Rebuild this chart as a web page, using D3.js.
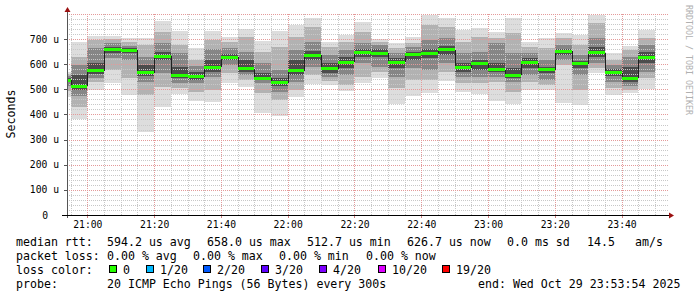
<!DOCTYPE html>
<html><head><meta charset="utf-8">
<script src="https://cdn.jsdelivr.net/npm/d3@7"></script>
<style>
body{margin:0;background:#fff}
svg{display:block}
text{font-family:"DejaVu Sans Mono",monospace}
</style>
</head><body>
<svg id="c" width="697" height="297"></svg>
<script>
// ---- data (microseconds), one entry per 5-minute interval, by interval end time ----
const intervalEnd = ["20:55","21:00","21:05","21:10","21:15","21:20","21:25","21:30","21:35","21:40",
  "21:45","21:50","21:55","22:00","22:05","22:10","22:15","22:20","22:25","22:30",
  "22:35","22:40","22:45","22:50","22:55","23:00","23:05","23:10","23:15","23:20",
  "23:25","23:30","23:35","23:40","23:45","23:50"];
const median = [536,513,573,657,655,566,631,556,550,587,627,582,545,526,573,635,581,607,647,644,
  607,639,643,658,585,601,577,556,606,577,651,602,646,566,544,627];
const pMax = [570,689,712,712,703,703,772,732,665,732,707,740,693,732,756,782,689,716,766,699,
  683,709,796,782,736,745,727,782,689,703,723,716,796,643,673,736];
const p90 = [560,630,696,699,689,676,729,676,617,696,689,709,650,669,709,749,669,689,729,689,
  663,683,756,749,689,709,703,723,669,663,703,676,762,617,656,703];
const p75 = [552,597,663,683,672,630,683,643,593,659,663,650,603,577,656,689,636,656,683,676,
  643,667,696,703,643,650,683,643,643,617,676,636,703,597,630,676];
const p60 = [545,557,603,667,663,597,650,590,570,617,640,617,566,544,617,654,603,630,659,659,
  623,650,659,672,603,617,603,584,623,590,659,614,669,580,590,650];
const p40 = [528,497,561,646,643,553,617,544,537,570,617,570,537,513,557,617,564,584,630,630,
  584,617,623,636,570,577,570,544,584,564,636,584,630,553,530,603];
const p25 = [515,473,544,623,617,530,564,526,524,550,597,557,524,490,530,590,550,557,603,590,
  550,584,577,603,550,550,550,530,557,537,617,557,603,530,513,570];
const p10 = [495,431,530,577,544,477,510,504,490,497,564,537,484,457,497,557,533,517,550,570,
  504,537,537,570,524,524,530,490,530,517,597,497,584,504,497,544];
const pMin = [470,382,497,524,477,331,431,480,455,451,524,508,407,394,471,521,517,494,526,544,
  440,473,484,534,490,481,455,440,497,497,447,438,564,477,484,500];

const yTicks = [0,100,200,300,400,500,600,700];
const xTickLabels = ["21:00","21:20","21:40","22:00","22:20","22:40","23:00","23:20","23:40"];

const statRtt = ["594.2 us avg","658.0 us max","512.7 us min","626.7 us now","0.0 ms sd","14.5","am/s"];
const statLoss = ["0.00 % avg","0.00 % max","0.00 % min","0.00 % now"];
const lossLabels = ["0","1/20","2/20","3/20","4/20","10/20","19/20"];
const lossColors = ["#26ff00","#00b8ff","#0059ff","#5e00ff","#7e00ff","#dd00ff","#ff0000"];
const probeText = "20 ICMP Echo Pings (56 Bytes) every 300s";
const endText = "end: Wed Oct 29 23:53:54 2025";

// ---- layout ----
const svg = d3.select("#c");
const L = 67, R = 668, B = 215, T = 13.9;
const day = (h,m,s)=> new Date(2025,9,29,h,m,s||0);
const start = day(20,53,54), end = day(23,53,54);
const x = d3.scaleTime().domain([start,end]).range([L,R]);
const y = d3.scaleLinear().domain([0,800]).range([B,T]);
const parse = s => { const [h,m] = s.split(":").map(Number); return day(h,m); };
const ends = intervalEnd.map(parse);
const STEP = 300000;
const bx0 = i => Math.max(L, x(new Date(ends[i]-STEP)));
const bx1 = i => x(ends[i]);

// smoke bands
const bands = [
  [pMin,pMax,"#dddddd"],
  [p10,p90,"#b2b2b2"],
  [p25,p75,"#868686"],
  [p40,p60,"#4c4c4c"]
];
const gS = svg.append("g").attr("shape-rendering","crispEdges");
bands.forEach(([lo,hi,col])=>{
  gS.selectAll(null).data(ends).enter().append("rect")
    .attr("x",(d,i)=>bx0(i)).attr("width",(d,i)=>bx1(i)-bx0(i))
    .attr("y",(d,i)=>y(hi[i])).attr("height",(d,i)=>y(lo[i])-y(hi[i]))
    .attr("fill",col);
});

// grid
const gG = svg.append("g").attr("shape-rendering","crispEdges");
const minorY = d3.range(20,801,20).filter(v=>v%100!==0);
const majorY = d3.range(100,801,100);
gG.selectAll(".hy").data(minorY).enter().append("line")
  .attr("x1",L).attr("x2",R).attr("y1",d=>Math.round(y(d))+0.5).attr("y2",d=>Math.round(y(d))+0.5)
  .attr("stroke","#c8c8c8").attr("stroke-dasharray","1,1");
const minorX = d3.timeMinute.every(5).range(start,end).filter(d=>d.getMinutes()%20!==0);
const majorX = d3.timeMinute.every(20).range(start,end);
gG.selectAll(".vx").data(minorX).enter().append("line")
  .attr("y1",B).attr("y2",T).attr("x1",d=>Math.round(x(d))+0.5).attr("x2",d=>Math.round(x(d))+0.5)
  .attr("stroke","#c8c8c8").attr("stroke-dasharray","1,1");
gG.selectAll(".hY").data(majorY).enter().append("line")
  .attr("x1",L).attr("x2",R).attr("y1",d=>Math.round(y(d))+0.5).attr("y2",d=>Math.round(y(d))+0.5)
  .attr("stroke","#e49a9a").attr("stroke-dasharray","1,1");
gG.selectAll(".vX").data(majorX).enter().append("line")
  .attr("y1",B).attr("y2",T).attr("x1",d=>Math.round(x(d))+0.5).attr("x2",d=>Math.round(x(d))+0.5)
  .attr("stroke","#e49a9a").attr("stroke-dasharray","1,1");

// median step connectors
const gM = svg.append("g").attr("shape-rendering","crispEdges");
gM.selectAll(".conn").data(ends.slice(1)).enter().append("line")
  .attr("x1",(d,i)=>Math.round(bx0(i+1))+0.5).attr("x2",(d,i)=>Math.round(bx0(i+1))+0.5)
  .attr("y1",(d,i)=>y(median[i])).attr("y2",(d,i)=>y(median[i+1]))
  .attr("stroke","#202020").attr("stroke-width",1);
gM.selectAll(".med").data(ends).enter().append("rect")
  .attr("x",(d,i)=>bx0(i)).attr("width",(d,i)=>bx1(i)-bx0(i))
  .attr("y",(d,i)=>y(median[i])-1.5).attr("height",3)
  .attr("fill",lossColors[0]);

// axes
const yAxis = d3.axisLeft(y).tickValues(yTicks).tickFormat(d=>d===0?"0":d+" u").tickSize(3).tickPadding(5);
const gy = svg.append("g").attr("transform",`translate(${L},0)`).call(yAxis);
gy.select(".domain").remove();
gy.selectAll(".tick line").attr("stroke","#555").attr("shape-rendering","crispEdges");
gy.selectAll(".tick text").attr("font-family","DejaVu Sans Mono").attr("font-size","9.7px").attr("fill","#000")
  .attr("dx",d=>d===0?-11:0);

const xAxis = d3.axisBottom(x).tickValues(xTickLabels.map(parse)).tickFormat(d3.timeFormat("%H:%M")).tickSize(3).tickPadding(3.5);
const gx = svg.append("g").attr("transform",`translate(0,${B})`).call(xAxis);
gx.select(".domain").remove();
gx.selectAll(".tick line").attr("stroke","#d08080").attr("shape-rendering","crispEdges");
gx.selectAll(".tick text").attr("font-family","DejaVu Sans Mono").attr("font-size","9.7px").attr("fill","#000");

// axis lines + arrows
svg.append("line").attr("x1",L+0.5).attr("x2",L+0.5).attr("y1",B+3).attr("y2",9)
  .attr("stroke","#555").attr("shape-rendering","crispEdges");
svg.append("line").attr("x1",62).attr("x2",R+1).attr("y1",B+0.5).attr("y2",B+0.5)
  .attr("stroke","#000").attr("shape-rendering","crispEdges");
svg.append("path").attr("d",`M${L+0.5},7 L${L-2.5},12 L${L+3.5},12 Z`).attr("fill","#9b1010");
svg.append("path").attr("d",`M${R+6},${B+0.5} L${R+1},${B-2.5} L${R+1},${B+3.5} Z`).attr("fill","#9b1010");

// titles
svg.append("text").attr("transform","translate(15,114) rotate(-90)").attr("text-anchor","middle")
  .attr("font-size","11.6px").text("Seconds");
svg.append("text").attr("transform","translate(685.5,60) rotate(90)").attr("text-anchor","middle")
  .attr("font-size","8.3px").attr("fill","#b0b0b0").text("RRDTOOL / TOBI OETIKER");

// legend
const fs = "11.6px";
const lg = svg.append("g").attr("font-size",fs).attr("fill","#000");
const put = (tx,xx,yy)=> lg.append("text").attr("x",xx).attr("y",yy).attr("xml:space","preserve").text(tx);
put("median rtt:",16,245.5);
const rttX = [107,207,307,407,507,587,635];
statRtt.forEach((s,i)=>put(s,rttX[i],245.5));
put("packet loss:",16,259.5);
const lossX = [107,193,279,366];
statLoss.forEach((s,i)=>put(s,lossX[i],259.5));
put("loss color:",16,273.5);
const boxX = [109,145.7,203.3,261,319.3,377.7,442.3];
lossLabels.forEach((s,i)=>{
  lg.append("rect").attr("x",Math.round(boxX[i])+0.5).attr("y",265.5).attr("width",7).attr("height",7)
    .attr("fill",lossColors[i]).attr("stroke","#000").attr("stroke-width",1).attr("shape-rendering","crispEdges");
  put(s,Math.round(boxX[i])+14,273.5);
});
put("probe:",16,287.5);
put(probeText,107,287.5);
put(endText,478,287.5);
</script>
</body></html>
